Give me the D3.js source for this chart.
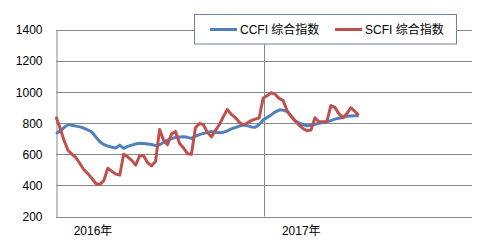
<!DOCTYPE html>
<html><head><meta charset="utf-8">
<script src="https://cdn.jsdelivr.net/npm/d3@7/dist/d3.min.js"></script>
<style>
body{margin:0;background:#fff;}
text{font-family:"Liberation Sans","Noto Sans CJK SC",sans-serif;font-size:12px;fill:#000;}
</style></head>
<body><svg id="c" width="485" height="250"></svg>
<script>
const dates = [
"2016-01-01","2016-01-08","2016-01-15","2016-01-22","2016-01-29","2016-02-05","2016-02-12","2016-02-19","2016-02-26",
"2016-03-04","2016-03-11","2016-03-18","2016-03-25","2016-04-01","2016-04-08","2016-04-15","2016-04-22","2016-04-29",
"2016-05-06","2016-05-13","2016-05-20","2016-05-27","2016-06-03","2016-06-10","2016-06-17","2016-06-24",
"2016-07-01","2016-07-08","2016-07-15","2016-07-22","2016-07-29","2016-08-05","2016-08-12","2016-08-19","2016-08-26",
"2016-09-02","2016-09-09","2016-09-16","2016-09-23","2016-09-30","2016-10-07","2016-10-14","2016-10-21","2016-10-28",
"2016-11-04","2016-11-11","2016-11-18","2016-11-25","2016-12-02","2016-12-09","2016-12-16","2016-12-23","2016-12-30",
"2017-01-06","2017-01-13","2017-01-20","2017-01-27","2017-02-03","2017-02-10","2017-02-17","2017-02-24",
"2017-03-03","2017-03-10","2017-03-17","2017-03-24","2017-03-31","2017-04-07","2017-04-14","2017-04-21","2017-04-28",
"2017-05-05","2017-05-12","2017-05-19","2017-05-26","2017-06-02","2017-06-09","2017-06-16"];
const ccfi = [733,748,770,790,785,780,775,767,755,742,710,680,662,652,645,640,658,637,650,658,665,670,668,665,662,655,
660,675,690,700,708,710,712,708,701,715,725,733,740,745,740,738,740,750,762,770,780,787,783,775,772,790,819,
835,852,870,883,883,874,845,815,800,790,782,785,792,798,803,808,815,825,830,835,843,845,847,847];
const scfi = [840,770,690,625,600,578,540,500,475,445,412,405,430,510,490,472,466,600,583,560,530,590,590,545,525,555,
759,690,660,730,745,670,640,603,600,770,797,790,740,711,750,790,840,887,855,835,805,787,800,815,825,832,960,
975,994,985,958,945,880,845,815,787,765,750,755,834,808,808,810,912,900,860,834,860,898,875,851];
const yTicks = [200,400,600,800,1000,1200,1400];
const yearTicks = ["2016-01-01","2017-01-01"];
const yearLabels = ["2016年","2017年"];
const seriesNames = ["CCFI 综合指数","SCFI 综合指数"];
const colors = ["#4f81bd","#c0504d"];

const parse = d3.timeParse("%Y-%m-%d");
const svg = d3.select("#c");
const L=56, R=472, T=29.5, B=216.5;
const x = d3.scaleTime().domain([parse("2016-01-01"), parse("2018-01-01")]).range([L,R]);
const y = d3.scaleLinear().domain([200,1400]).range([B,T]);

svg.append("g").selectAll("line").data(yTicks).join("line")
  .attr("x1",L).attr("x2",R).attr("y1",d=>Math.round(y(d))+0.5).attr("y2",d=>Math.round(y(d))+0.5)
  .attr("stroke","#878787").attr("stroke-width",1);
const yAxis = d3.axisLeft(y).tickValues(yTicks).tickSize(0).tickPadding(14).tickFormat(d3.format("d"));
const gy = svg.append("g").attr("transform",`translate(${L+0.5},0)`).call(yAxis);
gy.select(".domain").attr("stroke","#878787");
gy.selectAll("text").style("font-size","12px").attr("dy","0.35em");
svg.append("g").selectAll("line").data(yearTicks.slice(1)).join("line")
  .attr("x1",d=>Math.round(x(parse(d)))+0.5).attr("x2",d=>Math.round(x(parse(d)))+0.5)
  .attr("y1",T).attr("y2",B).attr("stroke","#878787");
svg.append("g").selectAll("text").data(yearTicks).join("text")
  .attr("x",d=>x(parse(d))+37).attr("y",235).attr("text-anchor","middle")
  .text((d,i)=>yearLabels[i]);

const line = d3.line().x((d,i)=>x(parse(dates[i]))).y(d=>y(d));
[ccfi,scfi].forEach((s,k)=>{
  svg.append("path").datum(s).attr("d",line).attr("fill","none")
    .attr("stroke",colors[k]).attr("stroke-width",3).attr("stroke-linejoin","round");
});

const lg = svg.append("g");
lg.append("rect").attr("x",194.5).attr("y",14.5).attr("width",262).attr("height",29.5)
  .attr("fill","#fff").attr("stroke","#6c82a3");
const lx = [210,335];
seriesNames.forEach((n,k)=>{
  lg.append("line").attr("x1",lx[k]).attr("x2",lx[k]+27).attr("y1",29.5).attr("y2",29.5)
    .attr("stroke",colors[k]).attr("stroke-width",3);
  lg.append("text").attr("x",lx[k]+30).attr("y",33.5).text(n);
});
</script></body></html>
